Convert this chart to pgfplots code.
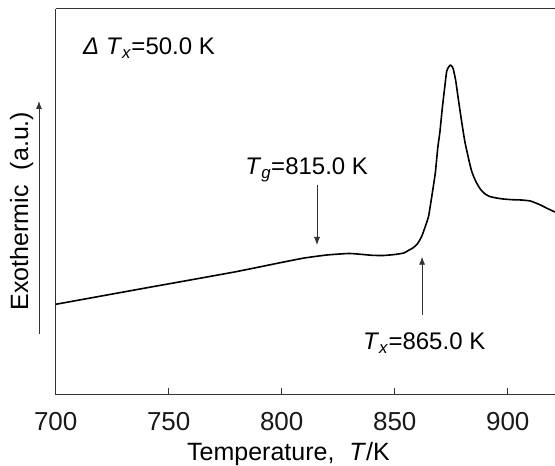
\documentclass[border=0pt]{standalone}
\usepackage{fontspec}
\setmainfont{Liberation Sans}
\usepackage{pgfplots}
\pgfplotsset{compat=1.18}
\usetikzlibrary{arrows.meta}
\begin{document}
\begin{tikzpicture}
\useasboundingbox (0,0) rectangle (555pt,466pt);
\begin{axis}[
 at={(55.7pt,71pt)}, anchor=south west,
 scale only axis, width=499.3pt, height=386pt,
 xmin=700, xmax=920.9, ymin=0, ymax=386,
 axis lines*=left,
 axis line style={line width=1pt, color=black!80},
 xtick={700,750,800,850,900},
 ytick=\empty,
 tick align=inside,
 major tick length=6.7pt,
 tick style={line width=0.8pt, color=black!80},
 xticklabel style={font=\fontsize{26}{30}\selectfont, anchor=base, yshift=-35.7pt, text=black!90},
 clip=false,
 /pgf/number format/assume math mode=true,
]
\draw[line width=1pt, black!80] (rel axis cs:0,1) -- (rel axis cs:1,1);
\addplot[black, line width=1.6pt, line join=round, mark=none, smooth, tension=0.3] coordinates {
(700,90.7) (720,98.9) (740,107.1) (760,115.2) (780,123.4) (800,132.6) (810,137) (820,140)
(830,141.5) (840,139.7) (845,139.5) (850,140.5) (854,142) (856,144.5) (858,147) (860,151)
(862,159) (864,171.7) (865,179) (866,193) (867,207.5) (868,223) (869,246.5) (870,263.5)
(871,286) (872,305.6) (873,324) (874,328.5) (874.6,330) (875.5,328) (876,325) (877,314)
(878,298) (879,282.5) (880,267.5) (881,253.5) (882,243) (883,233) (884,224) (885,218)
(886,213) (887,209) (888,205.5) (890,201) (892,198.5) (895,197) (898,196) (902,195.3)
(906,195) (910,194) (914,190.5) (918,186) (920.9,183)
};
\node[anchor=base west, inner sep=0, font=\fontsize{24}{29}\selectfont] at (axis cs:712.1,340) {\textit{Δ T}\textsubscript{\textit{x}}=50.0 K};
\node[anchor=base west, inner sep=0, font=\fontsize{24}{29}\selectfont] at (axis cs:783.8,220) {\textit{T}\textsubscript{\textit{g}}=815.0 K};
\node[anchor=base west, inner sep=0, font=\fontsize{24}{29}\selectfont] at (axis cs:835.9,45) {\textit{T}\textsubscript{\textit{x}}=865.0 K};
\draw[line width=0.8pt, black!80, -{Latex[length=8pt,width=6pt]}] (axis cs:815.6,210) -- (axis cs:815.6,150);
\draw[line width=0.8pt, black!80, -{Latex[length=8pt,width=6pt]}] (axis cs:862.1,80) -- (axis cs:862.1,138.3);
\draw[line width=0.8pt, black!80, -{Latex[length=8pt,width=6pt]}] (axis cs:692.6,61) -- (axis cs:692.6,294);
\node[rotate=90, anchor=center, inner sep=0, font=\fontsize{25}{30}\selectfont] at (axis cs:684.9,184) {Exothermic\hspace{0.6em}(a.u.)};
\node[anchor=base, inner sep=0, font=\fontsize{25}{30}\selectfont] at (axis cs:803,-66) {Temperature,\hspace{0.6em}\textit{T}/K};
\end{axis}
\end{tikzpicture}
\end{document}
